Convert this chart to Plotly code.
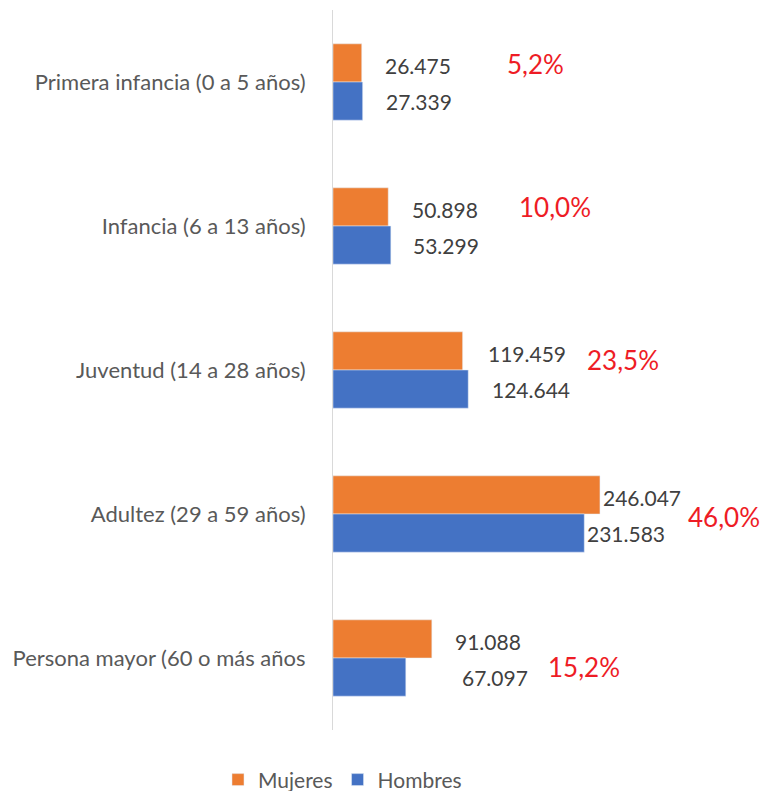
import plotly.graph_objects as go

categories = ["Primera infancia (0 a 5 años)", "Infancia (6 a 13 años)", "Juventud (14 a 28 años)",
              "Adultez (29 a 59 años)", "Persona mayor (60 o más años"]
mujeres = [26475, 50898, 119459, 246047, 91088]
hombres = [27339, 53299, 124644, 231583, 67097]
porcentajes = ["5,2%", "10,0%", "23,5%", "46,0%", "15,2%"]

# label offsets (pixels) as placed in the original
muj_shift = [21, 22, 23, 1, 21]
hom_shift = [21, 20, 22, 1, 54]
pct_shift = [142, 126, 117, 86, 114]
pct_yshift = [18, 19, 10, -3, -9]

def fmt(v):
    return f"{v:,}".replace(",", ".")

FONT = "Lato"
fig = go.Figure()
fig.add_trace(go.Bar(name="Mujeres", y=categories, x=mujeres, orientation="h",
                     marker_color="#ED7D31"))
fig.add_trace(go.Bar(name="Hombres", y=categories, x=hombres, orientation="h",
                     marker_color="#4472C4"))

ann = []
for i, c in enumerate(categories):
    ann.append(dict(x=mujeres[i], y=c, text=fmt(mujeres[i]), showarrow=False, xanchor="left",
                    xshift=muj_shift[i], yshift=17, font=dict(size=21, color="#404040", family=FONT)))
    ann.append(dict(x=hombres[i], y=c, text=fmt(hombres[i]), showarrow=False, xanchor="left",
                    xshift=hom_shift[i], yshift=-19, font=dict(size=21, color="#404040", family=FONT)))
    ann.append(dict(x=max(mujeres[i], hombres[i]), y=c, text=porcentajes[i], showarrow=False,
                    xanchor="left", xshift=pct_shift[i], yshift=pct_yshift[i],
                    font=dict(size=26, color="#EE1C25", family=FONT)))

fig.update_layout(
    width=772, height=791,
    margin=dict(l=325, r=13, t=2, b=69, autoexpand=False),
    paper_bgcolor="white", plot_bgcolor="white",
    barmode="group", bargap=0.47, bargroupgap=0,
    font=dict(family=FONT, size=22, color="#595959"),
    xaxis=dict(range=[0, 400000], showgrid=False, showticklabels=False, zeroline=False,
               showline=False),
    yaxis=dict(autorange="reversed", showline=True, linecolor="#d9d9d9", linewidth=1,
               ticks="", ticklabelstandoff=22, tickfont=dict(size=22, color="#595959")),
    legend=dict(orientation="h", x=-0.265, xanchor="left", y=-0.0694, yanchor="middle",
                font=dict(size=21, color="#595959"), traceorder="normal"),
    annotations=ann,
)
fig.write_html("out.html")
